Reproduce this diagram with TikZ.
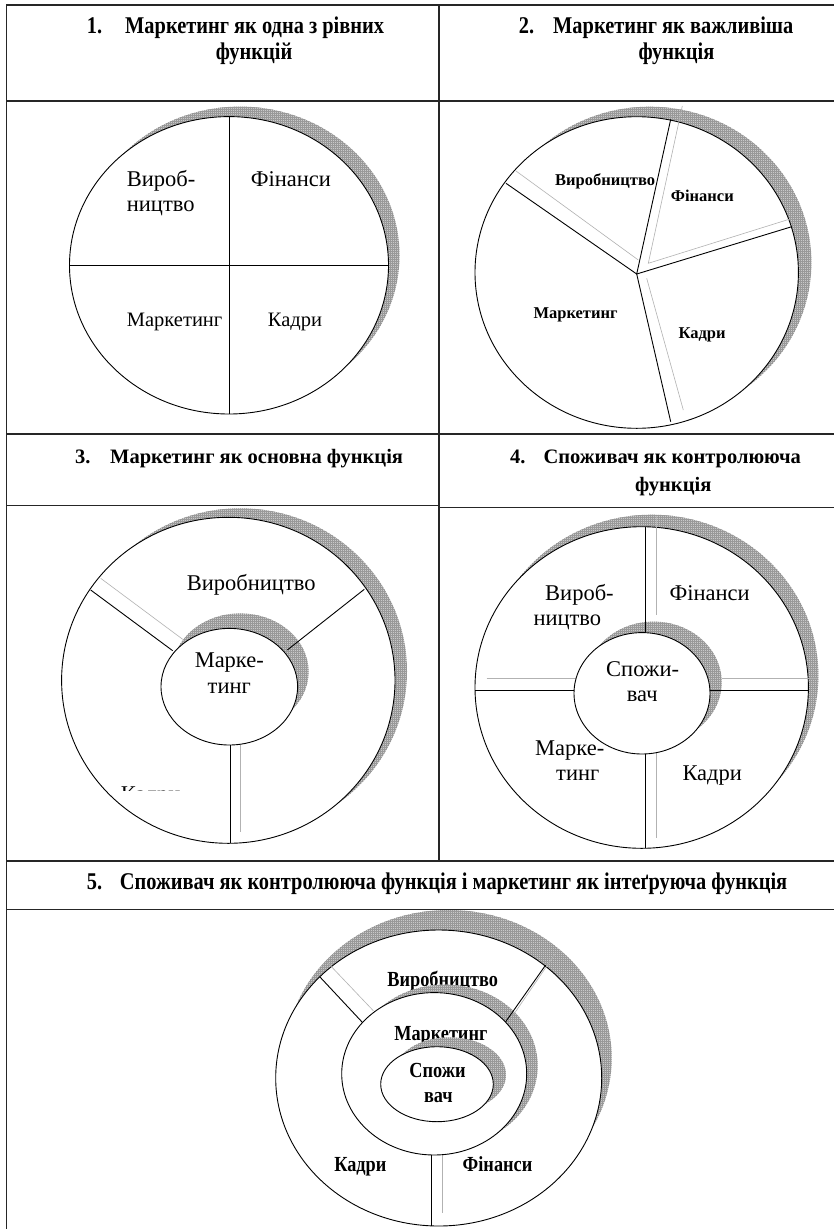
\documentclass[tikz,border=0pt]{standalone}
\usepackage{fontspec}
\setmainfont{Liberation Serif}
\newfontfamily\narrowserif[FakeStretch=0.85]{Liberation Serif}
\usetikzlibrary{shapes.geometric,patterns}

% fine square mesh used for the drop shadows
\pgfdeclarepatternformonly{finegrid}{\pgfqpoint{-0.1pt}{-0.1pt}}{\pgfqpoint{2.1pt}{2.1pt}}{\pgfqpoint{2pt}{2pt}}{%
  \pgfsetlinewidth{0.5pt}%
  \pgfpathmoveto{\pgfqpoint{0pt}{0pt}}\pgfpathlineto{\pgfqpoint{2.1pt}{0pt}}%
  \pgfpathmoveto{\pgfqpoint{0pt}{0pt}}\pgfpathlineto{\pgfqpoint{0pt}{2.1pt}}%
  \pgfusepath{stroke}}

\tikzset{
  tbl/.style={draw=black!85,line width=1.1pt},
  ring/.style={ellipse,draw=black,line width=0.9pt,fill=white,inner sep=0pt,outer sep=0pt},
  shade/.style={ellipse,inner sep=0pt,outer sep=0pt,preaction={fill=gray!42},pattern=finegrid,pattern color=gray!80},
  spoke/.style={draw=black,line width=0.9pt},
  ghost/.style={draw=gray!60,line width=0.6pt},
  hdr/.style={font=\bfseries\fontsize{20.5}{24}\selectfont,inner sep=0pt,anchor=base west},
  hdrn/.style={font=\narrowserif\bfseries\fontsize{24}{28}\selectfont,inner sep=0pt,anchor=base west},
  lbl/.style={font=\fontsize{22.5}{26}\selectfont,inner sep=0pt,anchor=base west},
  lbls/.style={font=\fontsize{20.5}{24}\selectfont,inner sep=0pt,anchor=base west},
  lblb/.style={font=\bfseries\fontsize{16.5}{19}\selectfont,inner sep=0pt,anchor=base west},
  lblc/.style={font=\narrowserif\bfseries\fontsize{21.5}{25}\selectfont,inner sep=0pt,anchor=base},
}

\begin{document}
\begin{tikzpicture}[x=1pt,y=-1pt]
\path[use as bounding box,fill=white] (0,0) rectangle (834,1229);

% ---------- table grid ----------
\draw[tbl] (834,5) -- (6.7,5) -- (6.7,1229);
\draw[tbl] (439,5) -- (439,861);
\draw[tbl] (6.7,101) -- (834,101);
\draw[tbl] (6.7,434) -- (834,434);
\draw[tbl] (6.7,505.5) -- (439,505.5);
\draw[tbl] (439,507.3) -- (834,507.3);
\draw[tbl] (6.7,861) -- (834,861);
\draw[tbl] (6.7,909.7) -- (834,909.7);

% ---------- headings ----------
\node[hdrn] (n1) at (86.7,33.3) {1.};
\node[hdrn] (h1a) at (125,33.3) {Маркетинг як одна з рівних};
\node[hdrn,anchor=base] (h1b) at (254,59.3) {функцій};
\node[hdrn] (n2) at (518.6,33.3) {2.};
\node[hdrn] (h2a) at (553,33.3) {Маркетинг як важливіша};
\node[hdrn,anchor=base] (h2b) at (676.5,59.3) {функція};
\node[hdr] (n3) at (75,463.3) {3.};
\node[hdr] (h3) at (110,463.3) {Маркетинг як основна функція};
\node[hdr] (n4) at (510,463.3) {4.};
\node[hdr] (h4a) at (543.3,463.3) {Споживач як контролююча};
\node[hdr] (h4b) at (635,491.7) {функція};
\node[hdrn] (n5) at (86.7,889) {5.};
\node[hdrn] (h5) at (119.7,889) {Споживач як контролююча функція і маркетинг як інтеґруюча функція};

% ---------- 1: four equal quarters ----------
\node[shade,minimum width=319pt,minimum height=297.4pt] (s1) at (240,255.3) {};
\node[ring,minimum width=319pt,minimum height=297.4pt] (e1) at (229,265.3) {};
\draw[spoke] (e1.north) -- (e1.south);
\draw[spoke] (e1.west) -- (e1.east);
\node[lbl] (v1a) at (126.7,186) {Вироб-};
\node[lbl] (v1b) at (126.7,211) {ництво};
\node[lbl] (f1) at (250.7,186) {Фінанси};
\node[lbls] (m1) at (126.7,326.7) {Маркетинг};
\node[lbls] (k1) at (267.7,326.7) {Кадри};

% ---------- 2: marketing as the larger sector ----------
\node[shade,minimum width=323.4pt,minimum height=311.6pt] (s2) at (649.7,262.5) {};
\node[ring,minimum width=323.4pt,minimum height=311.6pt] (e2) at (636.7,272.5) {};
\coordinate (c2) at (636.7,274);
\coordinate (p2a) at (506,183.3);
\coordinate (p2b) at (670.7,119.3);
\coordinate (p2c) at (791.7,226.7);
\coordinate (p2d) at (670.7,421.7);
\coordinate (q2a) at (516,171);
\coordinate (q2ai) at (638.3,260);
\coordinate (q2o) at (648.3,263.3);
\coordinate (q2b) at (682.3,106);
\coordinate (q2c) at (790,219);
\coordinate (q2di) at (646.7,278.3);
\coordinate (q2d) at (683.3,410);
\draw[ghost] (q2a) -- (q2ai);
\draw[ghost] (q2b) -- (q2o) -- (q2c);
\draw[ghost] (q2di) -- (q2d);
\draw[spoke] (p2a) -- (c2) -- (p2b);
\draw[spoke] (c2) -- (p2c);
\draw[spoke] (c2) -- (p2d);
\node[lblb] (v2) at (555,185) {Виробництво};
\node[lblb] (f2) at (670.7,201) {Фінанси};
\node[lblb] (m2) at (533.3,318.3) {Маркетинг};
\node[lblb] (k2) at (678.3,338.3) {Кадри};

% ---------- 3: marketing in the centre ----------
\node[shade,minimum width=333.4pt,minimum height=326pt] (s3o) at (240.3,671.3) {};
\node[ring,minimum width=333.4pt,minimum height=326pt] (e3o) at (228.3,680.3) {};
\node[shade,minimum width=136.6pt,minimum height=116.6pt] (s3i) at (240.3,671.7) {};
\coordinate (a3o) at (90.7,590);   \coordinate (a3i) at (172.7,650.7);
\coordinate (g3o) at (100.7,578.3); \coordinate (g3i) at (182.7,639.3);
\coordinate (b3o) at (364.3,589.3); \coordinate (b3i) at (287.3,650);
\coordinate (d3i) at (230,745);    \coordinate (d3o) at (230,842.7);
\coordinate (h3i) at (240.7,735);  \coordinate (h3o) at (240.7,831.7);
\draw[ghost] (g3o) -- (g3i);
\draw[ghost] (h3i) -- (h3o);
\draw[spoke] (a3o) -- (a3i);
\draw[spoke] (b3o) -- (b3i);
\draw[spoke] (d3i) -- (d3o);
\node[lbl] (v3) at (186.7,590.7) {Виробництво};
\begin{scope}
  \clip (100,770) rectangle (230,790.5);
  \node[lbl] (k3) at (120.7,801) {Кадри};
\end{scope}
\node[ring,minimum width=136.6pt,minimum height=116.6pt] (e3i) at (229.3,686.7) {};
\node[lbl,anchor=base] (m3a) at (229.3,667.3) {Марке-};
\node[lbl,anchor=base] (m3b) at (229.3,693.3) {тинг};

% ---------- 4: consumer in the centre ----------
\node[shade,minimum width=333.4pt,minimum height=321.6pt] (s4o) at (651.7,675.5) {};
\node[ring,minimum width=333.4pt,minimum height=321.6pt] (e4o) at (641.7,687.5) {};
\node[shade,minimum width=136pt,minimum height=121.4pt] (s4i) at (653.7,682.3) {};
\coordinate (t4o) at (645,526.7);  \coordinate (t4i) at (645,632.7);
\coordinate (l4o) at (475,690);    \coordinate (l4i) at (574,690);
\coordinate (r4i) at (710,690);    \coordinate (r4o) at (808.3,690);
\coordinate (u4i) at (645,754);    \coordinate (u4o) at (645,848);
\coordinate (tg4o) at (656.7,516);   \coordinate (tg4i) at (656.7,615);
\coordinate (lg4o) at (486.7,678.3); \coordinate (lg4i) at (586.7,678.3);
\coordinate (rg4i) at (721.7,678.3); \coordinate (rg4o) at (818.3,678.3);
\coordinate (ug4i) at (656.7,743.3); \coordinate (ug4o) at (656.7,838.3);
\draw[ghost] (tg4o) -- (tg4i);
\draw[ghost] (lg4o) -- (lg4i);
\draw[ghost] (rg4i) -- (rg4o);
\draw[ghost] (ug4i) -- (ug4o);
\draw[spoke] (t4o) -- (t4i);
\draw[spoke] (l4o) -- (l4i);
\draw[spoke] (r4i) -- (r4o);
\draw[spoke] (u4i) -- (u4o);
\node[lbl] (v4a) at (545,600) {Вироб-};
\node[lbl] (v4b) at (533.3,625) {ництво};
\node[lbl] (f4) at (669.3,600) {Фінанси};
\node[lbl] (m4a) at (535,755) {Марке-};
\node[lbl] (m4b) at (556,780) {тинг};
\node[lbl] (k4) at (682.3,780) {Кадри};
\node[ring,minimum width=136pt,minimum height=121.4pt] (e4i) at (642,693.3) {};
\node[lbl] (c4a) at (606,676) {Спожи-};
\node[lbl] (c4b) at (626.7,701.7) {вач};

% ---------- 5: consumer controls, marketing integrates ----------
\node[shade,minimum width=326pt,minimum height=296pt] (s5o) at (448.7,1058) {};
\node[ring,minimum width=326pt,minimum height=296pt] (e5o) at (438.7,1078) {};
\node[lblc] (v5) at (442.7,986) {Виробництво};
\node[lblc] (k5) at (360.3,1171.7) {Кадри};
\node[lblc] (f5) at (497.5,1171.7) {Фінанси};
\node[shade,minimum width=185pt,minimum height=162.4pt] (s5m) at (445.2,1065.8) {};
\coordinate (a5o) at (319.8,976.8);  \coordinate (a5i) at (362.7,1022.7);
\coordinate (ag5o) at (326.7,961.7); \coordinate (ag5i) at (373.3,1010.7);
\coordinate (b5o) at (545.6,965.1);  \coordinate (b5i) at (505,1022.7);
\coordinate (bg5o) at (555,954);     \coordinate (bg5i) at (513.3,1015);
\coordinate (d5i) at (431.7,1155);   \coordinate (d5o) at (431.7,1226);
\coordinate (dg5i) at (442.7,1145);  \coordinate (dg5o) at (442.7,1213.3);
\draw[ghost] (ag5o) -- (ag5i);
\draw[ghost] (bg5o) -- (bg5i);
\draw[ghost] (dg5i) -- (dg5o);
\draw[spoke] (a5o) -- (a5i);
\draw[spoke] (b5o) -- (b5i);
\draw[spoke] (d5i) -- (d5o);
\node[ring,minimum width=185pt,minimum height=162.4pt] (e5m) at (434.2,1073.8) {};
\node[lblc] (m5) at (440.8,1040) {Маркетинг};
\node[shade,minimum width=112.6pt,minimum height=75pt] (s5i) at (449.7,1074.8) {};
\node[ring,minimum width=112.6pt,minimum height=75pt] (e5i) at (437,1084.2) {};
\node[lblc] (c5a) at (437.5,1077) {Спожи};
\node[lblc] (c5b) at (438.3,1102) {вач};
\end{tikzpicture}
\end{document}
